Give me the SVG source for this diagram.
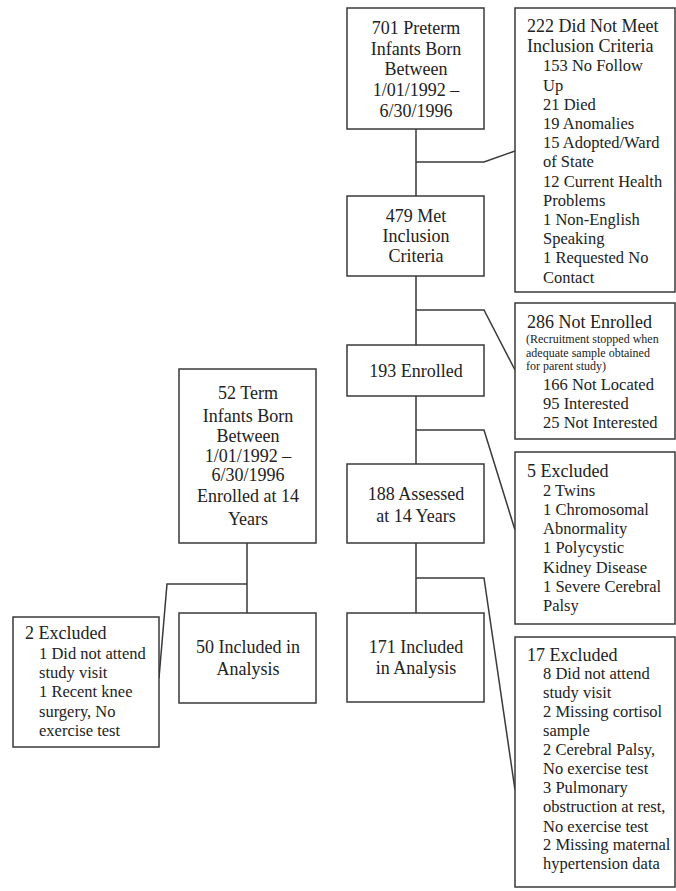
<svg xmlns="http://www.w3.org/2000/svg" width="676" height="891" viewBox="0 0 676 891">
<style>
rect.box{fill:#fff;stroke:#3a3a3a;stroke-width:1.5}
text{font-family:"Liberation Serif","Times New Roman","DejaVu Serif",serif;font-size:18px;fill:#222}
text.c{text-anchor:middle}
text.i{font-size:16.5px}
text.s{font-size:12px}
#connectors path{fill:none;stroke:#3a3a3a;stroke-width:1.5}
</style>
<rect width="676" height="891" fill="#fff"/>
<g id="connectors">
<path d="M416,129V196M416,162H484L515,151"/>
<path d="M416,276V345M416,310H484L515,370"/>
<path d="M416,396V464M416,430H484L515,530"/>
<path d="M416,543V613M416,578H484L515,790"/>
<path d="M247,543V613M247,584H167L159,678"/>
</g>
<g id="n701">
<rect class="box" x="347" y="8" width="137" height="121"/>
<text class="c" x="416" y="34">701 Preterm</text>
<text class="c" x="416" y="55">Infants Born</text>
<text class="c" x="416" y="75">Between</text>
<text class="c" x="416" y="96">1/01/1992 –</text>
<text class="c" x="416" y="117">6/30/1996</text>
</g>
<g id="n222">
<rect class="box" x="515" y="8" width="160" height="284"/>
<text x="527" y="32">222 Did Not Meet</text>
<text x="527" y="52">Inclusion Criteria</text>
<text class="i" x="543" y="71">153 No Follow</text>
<text class="i" x="543" y="91">Up</text>
<text class="i" x="543" y="110">21 Died</text>
<text class="i" x="543" y="129">19 Anomalies</text>
<text class="i" x="543" y="148">15 Adopted/Ward</text>
<text class="i" x="543" y="167">of State</text>
<text class="i" x="543" y="187">12 Current Health</text>
<text class="i" x="543" y="206">Problems</text>
<text class="i" x="543" y="225">1 Non-English</text>
<text class="i" x="543" y="244">Speaking</text>
<text class="i" x="543" y="263">1 Requested No</text>
<text class="i" x="543" y="283">Contact</text>
</g>
<g id="n479">
<rect class="box" x="347" y="196" width="137" height="80"/>
<text class="c" x="416" y="222">479 Met</text>
<text class="c" x="416" y="242">Inclusion</text>
<text class="c" x="416" y="262">Criteria</text>
</g>
<g id="n286">
<rect class="box" x="515" y="303" width="160" height="136"/>
<text x="527" y="328">286 Not Enrolled</text>
<text class="s" x="526" y="343">(Recruitment stopped when</text>
<text class="s" x="526" y="357">adequate sample obtained</text>
<text class="s" x="526" y="370">for parent study)</text>
<text class="i" x="543" y="390">166 Not Located</text>
<text class="i" x="543" y="409">95 Interested</text>
<text class="i" x="543" y="428">25 Not Interested</text>
</g>
<g id="n193">
<rect class="box" x="347" y="345" width="137" height="51"/>
<text class="c" x="416" y="377">193 Enrolled</text>
</g>
<g id="n52">
<rect class="box" x="179" y="369" width="137" height="174"/>
<text class="c" x="248" y="399">52 Term</text>
<text class="c" x="248" y="422">Infants Born</text>
<text class="c" x="248" y="442">Between</text>
<text class="c" x="248" y="462">1/01/1992 –</text>
<text class="c" x="248" y="481">6/30/1996</text>
<text class="c" x="248" y="502">Enrolled at 14</text>
<text class="c" x="248" y="525">Years</text>
</g>
<g id="n5">
<rect class="box" x="515" y="452" width="160" height="172"/>
<text x="527" y="477">5 Excluded</text>
<text class="i" x="543" y="496">2 Twins</text>
<text class="i" x="543" y="515">1 Chromosomal</text>
<text class="i" x="543" y="534">Abnormality</text>
<text class="i" x="543" y="553">1 Polycystic</text>
<text class="i" x="543" y="573">Kidney Disease</text>
<text class="i" x="543" y="592">1 Severe Cerebral</text>
<text class="i" x="543" y="611">Palsy</text>
</g>
<g id="n188">
<rect class="box" x="347" y="464" width="137" height="79"/>
<text class="c" x="416" y="500">188 Assessed</text>
<text class="c" x="416" y="522">at 14 Years</text>
</g>
<g id="n2">
<rect class="box" x="13" y="617" width="146" height="130"/>
<text x="25" y="639">2 Excluded</text>
<text class="i" x="39" y="659">1 Did not attend</text>
<text class="i" x="39" y="678">study visit</text>
<text class="i" x="39" y="697">1 Recent knee</text>
<text class="i" x="39" y="717">surgery, No</text>
<text class="i" x="39" y="736">exercise test</text>
</g>
<g id="n50">
<rect class="box" x="179" y="613" width="137" height="90"/>
<text class="c" x="248" y="653">50 Included in</text>
<text class="c" x="248" y="675">Analysis</text>
</g>
<g id="n171">
<rect class="box" x="347" y="613" width="137" height="89"/>
<text class="c" x="416" y="653">171 Included</text>
<text class="c" x="416" y="674">in Analysis</text>
</g>
<g id="n17">
<rect class="box" x="515" y="637" width="160" height="250"/>
<text x="527" y="661">17 Excluded</text>
<text class="i" x="543" y="679">8 Did not attend</text>
<text class="i" x="543" y="698">study visit</text>
<text class="i" x="543" y="717">2 Missing cortisol</text>
<text class="i" x="543" y="736">sample</text>
<text class="i" x="543" y="755">2 Cerebral Palsy,</text>
<text class="i" x="543" y="774">No exercise test</text>
<text class="i" x="543" y="793">3 Pulmonary</text>
<text class="i" x="543" y="812">obstruction at rest,</text>
<text class="i" x="543" y="832">No exercise test</text>
<text class="i" x="543" y="850">2 Missing maternal</text>
<text class="i" x="543" y="869">hypertension data</text>
</g>
</svg>
